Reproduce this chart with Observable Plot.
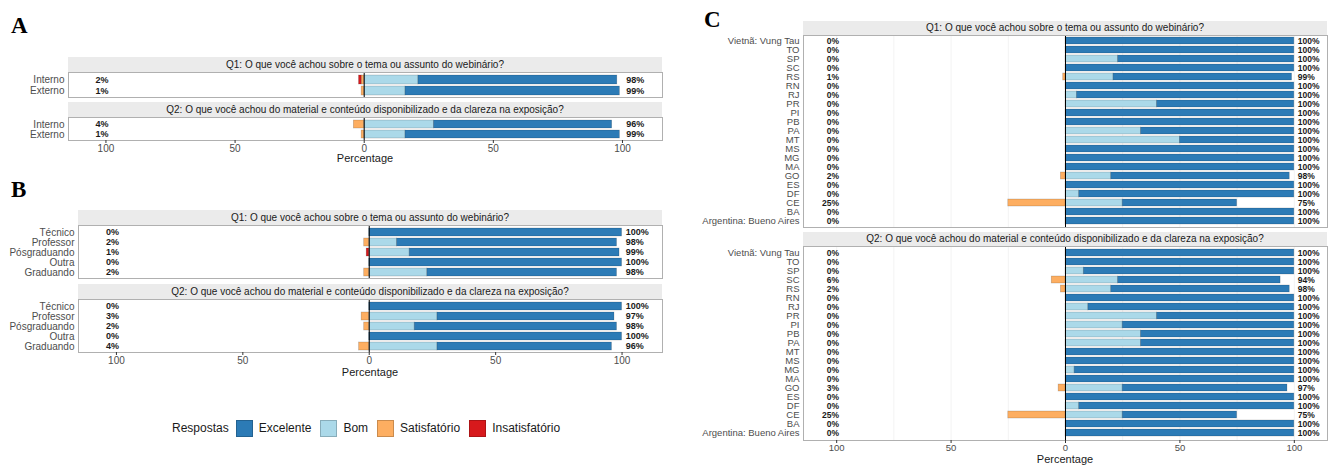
<!DOCTYPE html>
<html>
<head>
<meta charset="utf-8">
<script src="https://cdn.jsdelivr.net/npm/d3@7"></script>
<script src="https://cdn.jsdelivr.net/npm/@observablehq/plot@0.6"></script>
<style>
  body { margin: 0; background: #fff; font-family: "Liberation Sans", Arial, sans-serif; }
  #fig { position: relative; width: 1329px; height: 465px; overflow: hidden; background: #fff; }
  .abs { position: absolute; }
  .strip { position: absolute; background: #ebebeb; color: #1a1a1a; font-size: 10px; text-align: center; white-space: nowrap; box-sizing: border-box; }
  .tag { position: absolute; font-family: "Liberation Serif", "DejaVu Serif", serif; font-weight: bold; font-size: 23px; line-height: 1; color: #000; }
  .xlab { position: absolute; font-size: 11px; color: #1a1a1a; transform: translate(-50%, -50%); white-space: nowrap; }
  .legend { position: absolute; display: flex; align-items: center; font-size: 12px; color: #1a1a1a; white-space: nowrap; }
  .legend .sw { width: 17px; height: 17px; box-sizing: border-box; border: 1px solid rgba(0,0,0,0.2); margin: 0 6px 0 7px; }
  .legend .lab { margin-right: 2px; }
</style>
</head>
<body>
<div id="fig"></div>
<script>
// ---------- shared ----------
const levels = ["Excelente", "Bom", "Satisfatório", "Insatisfatório"];
const levelColors = ["#2c7bb6", "#abd9e9", "#fdae61", "#d7191c"];
const stackOrder = ["Bom", "Excelente", "Satisfatório", "Insatisfatório"];
const q1Title = "Q1: O que você achou sobre o tema ou assunto do webinário?";
const q2Title = "Q2: O que você achou do material e conteúdo disponibilizado e da clareza na exposição?";
const xTicks = [-100, -50, 0, 50, 100];
const gridC = [-100, -75, -50, -25, 25, 50, 75, 100];
const xTitle = "Percentage";
const legendTitle = "Respostas";

// ---------- Panel A ----------
const rowsA = ["Interno", "Externo"];
const aQ1Exc = [77, 83];
const aQ1Bom = [21, 16];
const aQ1Sat = [1, 1];
const aQ1Ins = [1, 0];
const aQ2Exc = [69, 83];
const aQ2Bom = [27, 16];
const aQ2Sat = [4, 1];
const aQ2Ins = [0, 0];

// ---------- Panel B ----------
const rowsB = ["Técnico", "Professor", "Pósgraduando", "Outra", "Graduando"];
const bQ1Exc = [100, 87, 83, 100, 75];
const bQ1Bom = [0, 11, 16, 0, 23];
const bQ1Sat = [0, 2, 0, 0, 2];
const bQ1Ins = [0, 0, 1, 0, 0];
const bQ2Exc = [100, 70, 80, 100, 69];
const bQ2Bom = [0, 27, 18, 0, 27];
const bQ2Sat = [0, 3, 2, 0, 4];
const bQ2Ins = [0, 0, 0, 0, 0];

// ---------- Panel C ----------
const rowsC = ["Vietnã: Vung Tau", "TO", "SP", "SC", "RS", "RN", "RJ", "PR", "PI", "PB", "PA",
               "MT", "MS", "MG", "MA", "GO", "ES", "DF", "CE", "BA", "Argentina: Bueno Aires"];
const cQ1Exc = [100, 100, 77, 100, 78, 100, 95, 60, 100, 100, 67, 50, 100, 100, 100, 78, 100, 94, 50, 100, 100];
const cQ1Bom = [0, 0, 23, 0, 21, 0, 5, 40, 0, 0, 33, 50, 0, 0, 0, 20, 0, 6, 25, 0, 0];
const cQ1Sat = [0, 0, 0, 0, 1, 0, 0, 0, 0, 0, 0, 0, 0, 0, 0, 2, 0, 0, 25, 0, 0];
const cQ2Exc = [100, 100, 92, 71, 78, 100, 90, 60, 75, 67, 67, 100, 100, 96, 100, 72, 100, 94, 50, 100, 100];
const cQ2Bom = [0, 0, 8, 23, 20, 0, 10, 40, 25, 33, 33, 0, 0, 4, 0, 25, 0, 6, 25, 0, 0];
const cQ2Sat = [0, 0, 0, 6, 2, 0, 0, 0, 0, 0, 0, 0, 0, 0, 0, 3, 0, 0, 25, 0, 0];

const leftLabelX = -99;
const rightLabelX = 101.5;

const fig = document.getElementById("fig");

function el(cls, text, css) {
  const d = document.createElement("div");
  d.className = cls;
  if (text != null) d.textContent = text;
  Object.assign(d.style, css);
  fig.appendChild(d);
  return d;
}

function strip(title, x0, x1, top, bottom) {
  el("strip", title, {
    left: x0 + "px", top: top + "px", width: (x1 - x0) + "px", height: (bottom - top) + "px",
    lineHeight: (bottom - top) + "px"
  });
}

function body(cfg) {
  const {rows, exc, bom, sat, ins, left, x0, x1, top, bottom, domain, axis, rowFont, pctFont, tickFont, grid} = cfg;
  const recs = [];
  rows.forEach((r, i) => {
    recs.push({row: r, level: "Bom", v: bom[i]});
    recs.push({row: r, level: "Excelente", v: exc[i]});
    recs.push({row: r, level: "Satisfatório", v: -sat[i]});
    if (ins) recs.push({row: r, level: "Insatisfatório", v: -ins[i]});
  });
  const labels = rows.map((r, i) => ({
    row: r,
    low: sat[i] + (ins ? ins[i] : 0),
    high: exc[i] + bom[i]
  }));
  const mb = axis ? 16 : 1;
  const marks = [];
  if (grid) marks.push(Plot.gridX(grid, {stroke: "#f3f3f3", strokeOpacity: 1}));
  marks.push(
    Plot.barX(recs.filter(d => d.v !== 0), {
      x: "v", y: "row", fill: "level", order: stackOrder,
      stroke: "#000", strokeOpacity: 0.22, strokeWidth: 0.7
    }),
    Plot.ruleX([0], {stroke: "#000", strokeWidth: 1}),
    Plot.frame({stroke: "#b0b0b0"}),
    Plot.text(labels, {x: () => leftLabelX, y: "row", text: d => d.low + "%", textAnchor: "end", fontSize: pctFont, fontWeight: "bold", fill: "#1a1a1a"}),
    Plot.text(labels, {x: () => rightLabelX, y: "row", text: d => d.high + "%", textAnchor: "start", fontSize: pctFont, fontWeight: "bold", fill: "#1a1a1a"}),
    Plot.axisY({tickSize: 0, tickPadding: 4, fontSize: rowFont, color: "#4d4d4d", label: null})
  );
  if (axis) {
    marks.push(Plot.axisX({ticks: xTicks, tickFormat: d => Math.abs(d), tickSize: 3, tickPadding: 1,
      fontSize: tickFont, color: "#4d4d4d", stroke: "#333", label: null}));
  }
  const plot = Plot.plot({
    width: x1 - left + 2,
    height: bottom - top + 1 + mb,
    marginLeft: x0 - left,
    marginRight: 2,
    marginTop: 1,
    marginBottom: mb,
    x: axis ? {domain, label: null} : {domain, axis: null},
    y: {domain: rows, padding: 0.2, label: null},
    color: {domain: levels, range: levelColors},
    style: {fontFamily: "'Liberation Sans', Arial, sans-serif", background: "transparent", overflow: "visible"},
    marks
  });
  plot.style.position = "absolute";
  plot.style.left = left + "px";
  plot.style.top = (top - 1) + "px";
  fig.appendChild(plot);
}

// ---------- Panel A layout ----------
el("tag", "A", {left: "11px", top: "14px"});
const aX0 = 68, aX1 = 662, aDom = [-114.5, 115.5];
strip(q1Title, aX0, aX1, 57, 72);
body({rows: rowsA, exc: aQ1Exc, bom: aQ1Bom, sat: aQ1Sat, ins: aQ1Ins, left: 0, x0: aX0, x1: aX1,
      top: 72, bottom: 97, domain: aDom, axis: false, rowFont: 10, pctFont: 9});
strip(q2Title, aX0, aX1, 102, 117);
body({rows: rowsA, exc: aQ2Exc, bom: aQ2Bom, sat: aQ2Sat, ins: aQ2Ins, left: 0, x0: aX0, x1: aX1,
      top: 117, bottom: 140, domain: aDom, axis: true, rowFont: 10, pctFont: 9, tickFont: 10});
el("xlab", xTitle, {left: ((aX0 + aX1) / 2) + "px", top: "158px"});

// ---------- Panel B layout ----------
el("tag", "B", {left: "11px", top: "178px"});
const bX0 = 78, bX1 = 662, bDom = [-115, 116];
strip(q1Title, bX0, bX1, 210, 225);
body({rows: rowsB, exc: bQ1Exc, bom: bQ1Bom, sat: bQ1Sat, ins: bQ1Ins, left: 0, x0: bX0, x1: bX1,
      top: 225, bottom: 278, domain: bDom, axis: false, rowFont: 10, pctFont: 9});
strip(q2Title, bX0, bX1, 284, 299);
body({rows: rowsB, exc: bQ2Exc, bom: bQ2Bom, sat: bQ2Sat, ins: bQ2Ins, left: 0, x0: bX0, x1: bX1,
      top: 299, bottom: 352, domain: bDom, axis: true, rowFont: 10, pctFont: 9, tickFont: 10});
el("xlab", xTitle, {left: ((bX0 + bX1) / 2) + "px", top: "372px"});

// ---------- Legend ----------
const leg = el("legend", null, {left: "172px", top: "419px", height: "18px"});
const lt = document.createElement("span");
lt.textContent = legendTitle;
leg.appendChild(lt);
levels.forEach((lv, i) => {
  const sw = document.createElement("span");
  sw.className = "sw";
  sw.style.background = levelColors[i];
  leg.appendChild(sw);
  const lb = document.createElement("span");
  lb.className = "lab";
  lb.textContent = lv;
  leg.appendChild(lb);
});

// ---------- Panel C layout ----------
el("tag", "C", {left: "704px", top: "8px"});
const cX0 = 803, cX1 = 1327, cDom = [-114.5, 114.5];
strip(q1Title, cX0, cX1, 21, 35);
body({rows: rowsC, exc: cQ1Exc, bom: cQ1Bom, sat: cQ1Sat, ins: null, left: 700, x0: cX0, x1: cX1,
      top: 35, bottom: 227, domain: cDom, axis: false, rowFont: 9.5, pctFont: 8.5, grid: gridC});
strip(q2Title, cX0, cX1, 232, 246);
body({rows: rowsC, exc: cQ2Exc, bom: cQ2Bom, sat: cQ2Sat, ins: null, left: 700, x0: cX0, x1: cX1,
      top: 246, bottom: 440, domain: cDom, axis: true, rowFont: 9.5, pctFont: 8.5, tickFont: 9.5, grid: gridC});
el("xlab", xTitle, {left: ((cX0 + cX1) / 2) + "px", top: "459px"});
</script>
</body>
</html>
